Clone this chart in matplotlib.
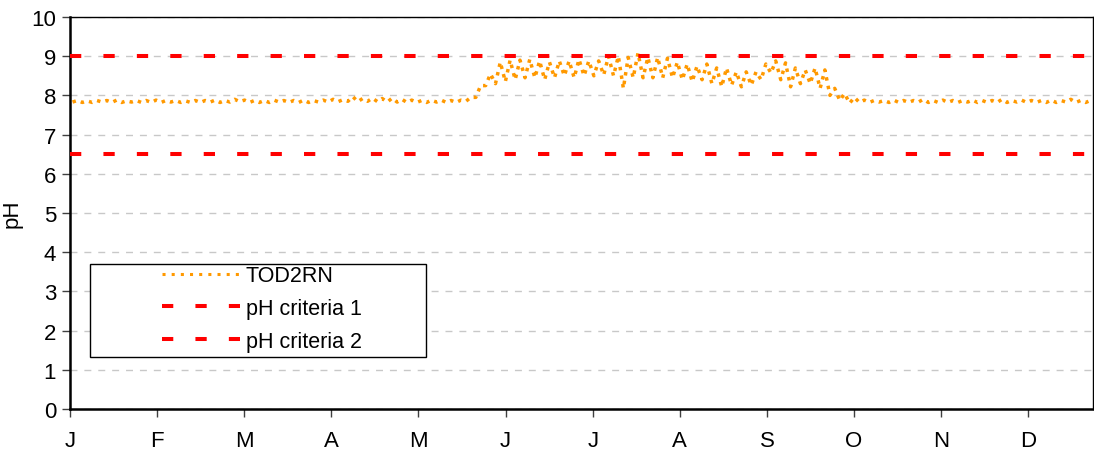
import matplotlib
matplotlib.use("Agg")
import matplotlib.pyplot as plt
from matplotlib.patches import Rectangle
from matplotlib.lines import Line2D
import numpy as np

plt.rcParams['font.family'] = ['Liberation Sans', 'DejaVu Sans']

# Half-week (3.5 day) low / high pH readings for TOD2RN, periods 0..103
half_week_low = [
    7.83, 7.82, 7.82, 7.83, 7.82, 7.82, 7.83, 7.82, 7.82, 7.82,   # 0-9
    7.83, 7.82, 7.82, 7.82, 7.83, 7.82, 7.83, 7.84, 7.82, 7.82,   # 10-19
    7.82, 7.83, 7.82, 7.82, 7.82, 7.83, 7.83, 7.84, 7.85, 7.84,   # 20-29
    7.85, 7.84, 7.83, 7.83, 7.82, 7.82, 7.82, 7.83, 7.82, 7.82,   # 30-39
    7.85, 7.95, 8.25, 8.30, 8.35, 8.40, 8.45, 8.45, 8.40, 8.45,   # 40-49
    8.50, 8.45, 8.50, 8.50, 8.52, 8.50, 8.18, 8.45, 8.45, 8.45,   # 50-59
    8.45, 8.45, 8.40, 8.35, 8.40, 8.30, 8.22, 8.26, 8.22, 8.26,   # 60-69
    8.40, 8.57, 8.40, 8.22, 8.30, 8.30, 8.18, 8.00, 7.87, 7.80,   # 70-79
    7.82, 7.82, 7.83, 7.82, 7.82, 7.82, 7.83, 7.82, 7.82, 7.82,   # 80-89
    7.82, 7.83, 7.82, 7.82, 7.82, 7.82, 7.83, 7.82, 7.82, 7.82,   # 90-99
    7.82, 7.83, 7.82, 7.82]                                       # 100-103
half_week_high = [
    7.87, 7.86, 7.87, 7.87, 7.88, 7.86, 7.87, 7.87, 7.88, 7.87,
    7.87, 7.86, 7.87, 7.87, 7.88, 7.87, 7.90, 7.88, 7.87, 7.87,
    7.88, 7.87, 7.87, 7.88, 7.87, 7.88, 7.90, 7.89, 7.97, 7.92,
    7.93, 7.92, 7.93, 7.90, 7.88, 7.87, 7.88, 7.88, 7.87, 7.88,
    7.95, 8.25, 8.55, 8.85, 8.90, 8.90, 8.92, 8.88, 8.85, 8.88,
    8.88, 8.92, 8.88, 8.88, 9.00, 9.00, 8.97, 9.08, 8.97, 8.97,
    8.95, 8.85, 8.80, 8.75, 8.80, 8.70, 8.70, 8.60, 8.60, 8.60,
    8.80, 8.88, 8.83, 8.70, 8.65, 8.70, 8.65, 8.18, 8.05, 7.95,
    7.88, 7.87, 7.87, 7.88, 7.87, 7.87, 7.90, 7.87, 7.88, 7.87,
    7.87, 7.88, 7.87, 7.87, 7.90, 7.87, 7.88, 7.87, 7.87, 7.88,
    7.87, 7.90, 7.87, 7.87]
criteria_1 = 9.0
criteria_2 = 6.5
month_ticks = [0, 31, 62, 93, 124, 155, 186, 217, 248, 279, 310, 341]
month_labels = ['J', 'F', 'M', 'A', 'M', 'J', 'J', 'A', 'S', 'O', 'N', 'D']
y_ticks = list(range(0, 11))

days = []
vals = []
for k, (lo, hi) in enumerate(zip(half_week_low, half_week_high)):
    days += [3.5 * k + 0.9, 3.5 * k + 2.6]
    vals += [lo, hi]
days = np.array(days)
vals = np.array(vals)

fig = plt.figure(figsize=(10.94, 4.56), dpi=100)
ax = fig.add_axes([70 / 1094, 46 / 456, 1023 / 1094, 392 / 456])

orange = '#FF9900'
red = '#FF0000'
dot_style = (0, (1, 1.5))
dash_style = (0, (2.8, 5.5))

ax.set_axisbelow(True)
ax.yaxis.grid(True, color='#C8C8C8', lw=1, linestyle=(0, (5, 5)))

ax.plot(days, vals, color=orange, lw=2.5, linestyle=dot_style, zorder=3)
ax.axhline(criteria_1, color=red, lw=2.9, linestyle=dash_style, zorder=4)
ax.axhline(criteria_2, color=red, lw=2.9, linestyle=dash_style, zorder=4)

ax.set_xlim(0, 364)
ax.set_ylim(0, 10)
ax.set_yticks(y_ticks)
ax.set_xticks(month_ticks)
ax.set_xticklabels(month_labels)
ax.tick_params(axis='both', labelsize=16, length=6, color='#404040', width=1)
ax.tick_params(axis='x', pad=9)
ax.tick_params(axis='y', pad=4)
ax.set_ylabel('pH', fontsize=16, labelpad=6)

for s in ['left', 'bottom']:
    ax.spines[s].set_linewidth(1.8)
ax.spines['top'].set_linewidth(1.0)
ax.spines['right'].set_linewidth(1.0)

# legend frame
ax.add_patch(Rectangle((20 / 1023, (410 - 358) / 392), 336 / 1023, 93 / 392,
                       transform=ax.transAxes, facecolor='white',
                       edgecolor='black', lw=1, zorder=5))
handles = [Line2D([], [], color=orange, lw=2.2, linestyle=(0, (1, 2))),
           Line2D([], [], color=red, lw=2.9, linestyle=dash_style),
           Line2D([], [], color=red, lw=2.9, linestyle=dash_style)]
leg = ax.legend(handles, ['TOD2RN', 'pH criteria 1', 'pH criteria 2'],
                loc='center', bbox_to_anchor=(192 / 1023, (410 - 309.5) / 392),
                frameon=False, fontsize=15.5, handlelength=3.6,
                handletextpad=0.3, labelspacing=0.55, borderpad=0)
leg.set_zorder(6)

fig.savefig('out.png', dpi=100)
